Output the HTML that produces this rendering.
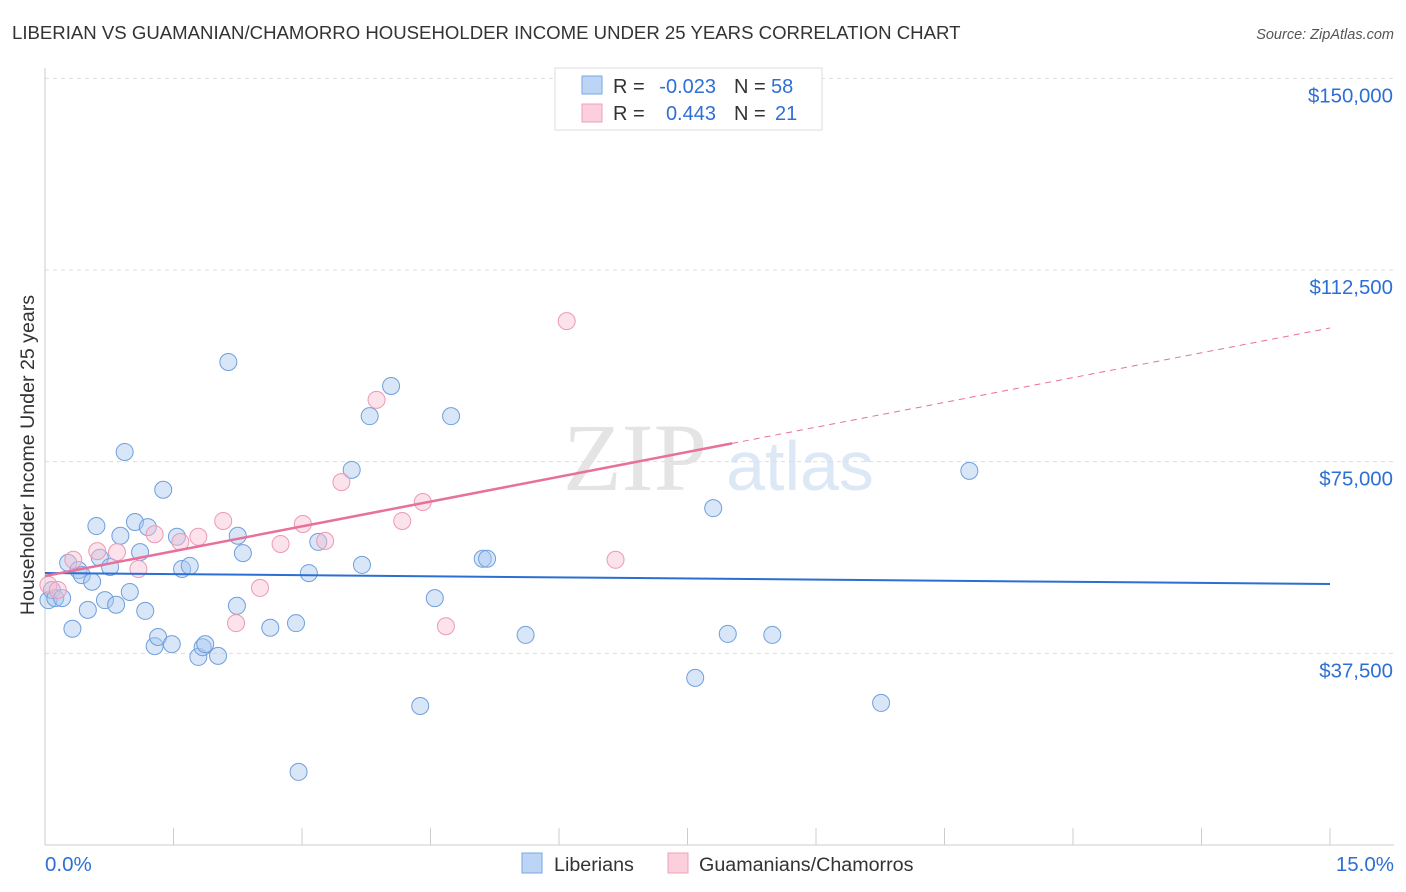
<!DOCTYPE html>
<html><head><meta charset="utf-8"><style>
body{margin:0;background:#fff;font-family:"Liberation Sans",sans-serif}
svg{display:block}
</style></head><body>
<svg id="chart" width="1406" height="892">
<text x="12" y="39" font-size="18.6" fill="#333">LIBERIAN VS GUAMANIAN/CHAMORRO HOUSEHOLDER INCOME UNDER 25 YEARS CORRELATION CHART</text>
<text x="1394" y="39" font-size="14.5" fill="#555" font-style="italic" text-anchor="end">Source: ZipAtlas.com</text>
<text x="635" y="490" font-size="96" fill="#e4e4e4" font-family="Liberation Serif,serif" text-anchor="middle">ZIP</text>
<text x="800" y="490" font-size="70" fill="#dce8f6" text-anchor="middle">atlas</text>
<text transform="translate(34,455) rotate(-90)" font-size="19.6" fill="#333" text-anchor="middle">Householder Income Under 25 years</text>
<g id="grid"></g><g id="marks"></g>
<g>
<rect x="555" y="68" width="267" height="62" fill="#fff" stroke="#ddd"/>
<rect x="582" y="76" width="20" height="18" fill="#bcd4f5" stroke="#7aa7e0"/>
<rect x="582" y="104" width="20" height="18" fill="#fbcfdc" stroke="#eea0b8"/>
<g font-size="20" fill="#333">
<text x="613" y="93">R =</text><text x="716" y="93" fill="#2e6fd6" text-anchor="end">-0.023</text>
<text x="734" y="93">N =</text><text x="771" y="93" fill="#2e6fd6">58</text>
<text x="613" y="120">R =</text><text x="716" y="120" fill="#2e6fd6" text-anchor="end">0.443</text>
<text x="734" y="120">N =</text><text x="775" y="120" fill="#2e6fd6">21</text>
</g>
</g>
<g>
<rect x="522" y="853" width="20" height="20" fill="#bcd4f5" stroke="#7aa7e0"/>
<text x="554" y="871" font-size="19.7" fill="#333">Liberians</text>
<rect x="668" y="853" width="20" height="20" fill="#fbcfdc" stroke="#eea0b8"/>
<text x="699" y="871" font-size="19.7" fill="#333">Guamanians/Chamorros</text>
</g>
</svg>
<script>
const yTicks=[37500,75000,112500,150000];
const yTickLabels=["$37,500","$75,000","$112,500","$150,000"];
const xTickLabels=["0.0%","15.0%"];
const blueX=[.04,.08,.12,.20,.27,.32,.39,.43,.50,.55,.60,.64,.70,.76,.83,.88,.93,.99,1.05,1.11,1.17,1.20,1.28,1.32,1.38,1.48,1.54,1.60,1.69,1.79,1.84,1.87,2.02,2.14,2.24,2.25,2.31,2.63,2.93,2.96,3.08,3.19,3.58,3.70,3.79,4.04,4.38,4.55,4.74,5.11,5.16,5.61,7.59,7.80,7.97,8.49,9.76,10.79];
const blueY=[47.9,49.9,48.3,48.3,55.2,42.3,53.8,52.8,46.0,51.5,62.4,56.2,47.9,54.4,47.0,60.5,76.9,49.5,63.2,57.3,45.8,62.2,38.9,40.7,69.5,39.3,60.3,54.0,54.6,36.8,38.7,39.3,37.0,94.5,46.8,60.5,57.1,42.5,43.4,14.3,53.2,59.3,73.4,54.8,83.9,89.8,27.2,48.3,83.9,56.0,56.0,41.1,32.7,65.9,41.3,41.1,27.8,73.2];
const pinkX=[.04,.15,.33,.61,.84,1.09,1.28,1.58,1.79,2.08,2.23,2.51,2.75,3.01,3.27,3.46,3.87,4.17,4.41,4.68,6.09,6.66];
const pinkY=[50.9,49.9,55.8,57.5,57.3,54.0,60.8,59.3,60.3,63.4,43.4,50.3,58.9,62.8,59.5,71.0,87.1,63.4,67.1,42.8,102.5,55.8];
const blueTrend=[53216,51064];
const pinkTrend=[52630,101150];
const pinkSolidEnd=8.02;
const NS="http://www.w3.org/2000/svg";
const X=v=>45+v/15*1285;
const Y=v=>845-v/37500*191.67;
function mk(t,a,p){const e=document.createElementNS(NS,t);for(const k in a)e.setAttribute(k,a[k]);p.appendChild(e);return e;}
const g=document.getElementById('grid'),m=document.getElementById('marks');
yTicks.forEach((v,i)=>{
 const l=mk('line',{x1:45,x2:1394,y1:Y(v),y2:Y(v),stroke:'#ddd','stroke-dasharray':'4,4'},g);
 
 
 const t=mk('text',{x:1393,y:Y(v)+24,'font-size':20.4,fill:'#2e6fd6','text-anchor':'end'},g);t.textContent=yTickLabels[i];
 
 
});
mk('line',{x1:45,x2:45,y1:68,y2:845,stroke:'#ccc'},g);
mk('line',{x1:45,x2:1394,y1:845,y2:845,stroke:'#ccc'},g);
for(let i=0;i<=10;i++){const l=mk('line',{x1:X(i*1.5),x2:X(i*1.5),y1:828,y2:845,stroke:'#ccc'},g);
 
 }
[[0,'start',45],[15,'end',1394]].forEach((d,i)=>{const t=mk('text',{x:d[2],y:871,'font-size':20.5,fill:'#2e6fd6','text-anchor':d[1]},g);t.textContent=xTickLabels[i];
 
 });
blueX.forEach((x,i)=>{const c=mk('circle',{cx:X(x),cy:Y(blueY[i]*1000),r:8.5,fill:'#a9c8f0','fill-opacity':0.45,stroke:'#6f9fdc','stroke-width':1},m);
 
 });
pinkX.forEach((x,i)=>{const c=mk('circle',{cx:X(x),cy:Y(pinkY[i]*1000),r:8.5,fill:'#f8bfd0','fill-opacity':0.45,stroke:'#eb9ab5','stroke-width':1},m);
 
 });
const bt=mk('line',{x1:X(0),y1:Y(blueTrend[0]),x2:X(15),y2:Y(blueTrend[1]),stroke:'#2a6fd4','stroke-width':2},m);


const py=x=>pinkTrend[0]+(pinkTrend[1]-pinkTrend[0])*x/15;
const ps=mk('line',{x1:X(0),y1:Y(py(0)),x2:X(pinkSolidEnd),y2:Y(py(pinkSolidEnd)),stroke:'#e8709a','stroke-width':2.5},m);


const pd=mk('line',{x1:X(pinkSolidEnd),y1:Y(py(pinkSolidEnd)),x2:X(15),y2:Y(py(15)),stroke:'#e8709a','stroke-width':1,'stroke-dasharray':'6,5'},m);


</script>
</body></html>
